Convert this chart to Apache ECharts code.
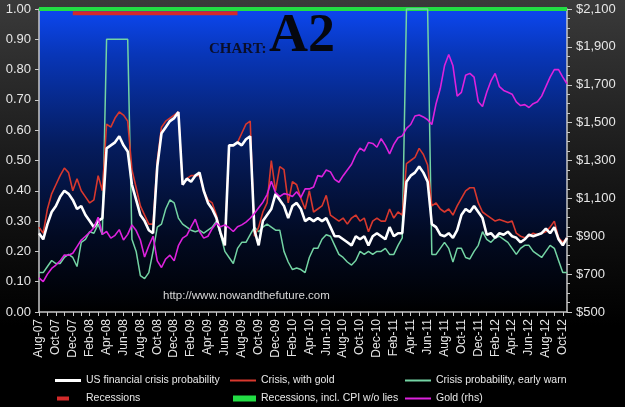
<!DOCTYPE html>
<html>
<head>
<meta charset="utf-8">
<script src="https://cdn.jsdelivr.net/npm/echarts@6/dist/echarts.min.js"></script>
<style>
  html, body { margin: 0; padding: 0; background: #000; }
  #chart { width: 625px; height: 407px; }
</style>
</head>
<body>
<div id="chart"></div>
<script>
// month tick labels, data is two readings per month
var monthLabels = [
  'Aug-07','Sep-07','Oct-07','Nov-07','Dec-07',
  'Jan-08','Feb-08','Mar-08','Apr-08','May-08','Jun-08','Jul-08','Aug-08','Sep-08','Oct-08','Nov-08','Dec-08',
  'Jan-09','Feb-09','Mar-09','Apr-09','May-09','Jun-09','Jul-09','Aug-09','Sep-09','Oct-09','Nov-09','Dec-09',
  'Jan-10','Feb-10','Mar-10','Apr-10','May-10','Jun-10','Jul-10','Aug-10','Sep-10','Oct-10','Nov-10','Dec-10',
  'Jan-11','Feb-11','Mar-11','Apr-11','May-11','Jun-11','Jul-11','Aug-11','Sep-11','Oct-11','Nov-11','Dec-11',
  'Jan-12','Feb-12','Mar-12','Apr-12','May-12','Jun-12','Jul-12','Aug-12','Sep-12','Oct-12'
];

var crisisProb = [
  0.26,0.24,0.29,0.33,0.35,0.38,0.40,0.39,0.37,0.34,
  0.35,0.32,0.30,0.28,0.30,0.31,0.54,0.55,0.56,0.58,
  0.55,0.53,0.42,0.37,0.32,0.30,0.27,0.26,0.48,0.59,
  0.61,0.63,0.64,0.66,0.42,0.44,0.43,0.45,0.46,0.40,
  0.36,0.34,0.31,0.26,0.22,0.55,0.55,0.56,0.55,0.57,
  0.58,0.27,0.22,0.30,0.32,0.34,0.39,0.37,0.35,0.31,
  0.35,0.36,0.34,0.30,0.31,0.30,0.31,0.30,0.31,0.28,
  0.25,0.25,0.24,0.23,0.22,0.25,0.24,0.25,0.22,0.25,
  0.26,0.25,0.24,0.28,0.25,0.26,0.26,0.43,0.45,0.46,
  0.48,0.46,0.43,0.29,0.28,0.255,0.25,0.26,0.245,0.27,
  0.32,0.34,0.33,0.35,0.33,0.31,0.255,0.26,0.245,0.26,
  0.255,0.265,0.25,0.245,0.23,0.24,0.255,0.25,0.255,0.26,
  0.275,0.26,0.28,0.24,0.22,0.245
];

var crisisWithGold = [
  0.28,0.26,0.34,0.39,0.42,0.45,0.475,0.46,0.40,0.44,
  0.40,0.38,0.36,0.37,0.45,0.40,0.62,0.61,0.64,0.66,
  0.65,0.63,0.47,0.41,0.35,0.32,0.29,0.29,0.50,0.61,
  0.63,0.64,0.65,0.66,0.42,0.44,0.45,0.45,0.45,0.40,
  0.37,0.36,0.32,0.26,0.22,0.55,0.55,0.56,0.59,0.62,
  0.63,0.25,0.28,0.33,0.36,0.50,0.40,0.48,0.47,0.36,
  0.43,0.42,0.375,0.34,0.40,0.33,0.34,0.35,0.385,0.32,
  0.31,0.30,0.31,0.29,0.31,0.32,0.30,0.31,0.265,0.30,
  0.31,0.30,0.30,0.34,0.31,0.33,0.32,0.49,0.50,0.51,
  0.54,0.52,0.485,0.35,0.36,0.34,0.33,0.34,0.32,0.35,
  0.375,0.40,0.41,0.41,0.36,0.33,0.32,0.31,0.30,0.305,
  0.30,0.295,0.30,0.26,0.25,0.245,0.25,0.26,0.255,0.26,
  0.265,0.28,0.30,0.245,0.23,0.245
];

var earlyWarn = [
  0.13,0.13,0.15,0.17,0.16,0.16,0.18,0.19,0.18,0.15,
  0.23,0.24,0.265,0.26,0.29,0.255,0.90,0.90,0.90,0.90,
  0.90,0.90,0.24,0.20,0.12,0.11,0.13,0.20,0.28,0.29,
  0.34,0.37,0.36,0.31,0.29,0.28,0.27,0.265,0.27,0.26,
  0.27,0.28,0.30,0.255,0.20,0.18,0.16,0.21,0.23,0.23,
  0.255,0.28,0.265,0.28,0.29,0.28,0.27,0.27,0.20,0.165,
  0.14,0.145,0.14,0.13,0.18,0.21,0.21,0.24,0.255,0.25,
  0.22,0.19,0.18,0.165,0.155,0.17,0.20,0.19,0.20,0.19,
  0.20,0.20,0.21,0.19,0.19,0.22,0.245,1.0,1.0,1.0,
  1.0,1.0,1.0,0.19,0.19,0.21,0.23,0.21,0.165,0.21,
  0.21,0.18,0.175,0.20,0.22,0.265,0.24,0.23,0.245,0.25,
  0.24,0.23,0.21,0.19,0.21,0.22,0.22,0.20,0.19,0.18,
  0.20,0.22,0.21,0.17,0.13,0.13
];

var gold = [
  680,660,700,730,748,770,801,800,810,845,
  880,900,920,945,1000,910,925,890,905,935,
  880,910,960,930,880,790,850,900,770,735,
  780,800,770,850,890,905,950,990,925,890,
  900,940,970,950,960,945,925,950,960,975,
  995,1020,1050,1080,1120,1190,1130,1110,1125,1120,
  1110,1135,1105,1150,1150,1160,1220,1215,1250,1240,
  1200,1185,1220,1250,1280,1330,1365,1350,1395,1390,
  1370,1415,1380,1335,1385,1420,1430,1470,1490,1535,
  1540,1530,1515,1490,1600,1680,1800,1860,1800,1640,
  1660,1750,1760,1740,1610,1585,1660,1720,1760,1690,
  1670,1660,1650,1610,1590,1595,1580,1600,1610,1640,
  1690,1740,1780,1780,1740,1705
];

// recession periods: [first, last] category, drawn as bars near the top
var recessionRange = ['Dec-07', 'Jul-09 b'];
var recessionLevel = 0.986;
var cpiRecessionRange = ['Aug-07', 'Oct-12 b'];
var cpiRecessionLevel = 1.0;

var categories = [];
monthLabels.forEach(function (m) { categories.push(m, m + ' b'); });

function spanSeries(range, level) {
  var a = categories.indexOf(range[0]), b = categories.indexOf(range[1]);
  return categories.map(function (c, i) { return (i >= a && i <= b) ? level : null; });
}

var font = '"Liberation Sans", Arial, sans-serif';
var legendText = { color: '#e8e8e8', fontSize: 10.5, fontFamily: font };

function legendAt(name, left, top, w, h, extra) {
  var l = {
    left: left, top: top, padding: 0, itemWidth: w, itemHeight: h,
    icon: 'rect', selectedMode: false, data: [name],
    textStyle: Object.assign({}, legendText)
  };
  if (extra) l.textStyle.padding = extra;
  return l;
}

var chart = echarts.init(document.getElementById('chart'));
chart.setOption({
  animation: false,
  backgroundColor: {
    type: 'linear', x: 0, y: 0, x2: 0, y2: 1,
    colorStops: [
      { offset: 0, color: '#3a3a3a' },
      { offset: 0.45, color: '#161616' },
      { offset: 0.8, color: '#000' },
      { offset: 1, color: '#000' }
    ]
  },
  textStyle: { fontFamily: font },
  grid: {
    left: 39, right: 58, top: 9, bottom: 95,
    show: true, borderWidth: 0,
    backgroundColor: {
      type: 'linear', x: 0, y: 0, x2: 0, y2: 1,
      colorStops: [
        { offset: 0, color: '#0c47f0' },
        { offset: 0.15, color: '#0836b8' },
        { offset: 0.45, color: '#051c5e' },
        { offset: 0.75, color: '#020a22' },
        { offset: 1, color: '#000' }
      ]
    }
  },
  legend: [
    legendAt('US financial crisis probability', 55, 375, 26, 3),
    legendAt('Recessions', 57, 393, 12, 4, [0, 0, 0, 12]),
    legendAt('Crisis, with gold', 230, 375, 26, 2),
    legendAt('Recessions, incl. CPI w/o lies', 233, 393, 23, 6),
    legendAt('Crisis probability, early warn', 405, 375, 26, 2),
    legendAt('Gold (rhs)', 405, 393, 26, 2)
  ],
  xAxis: {
    type: 'category',
    data: categories,
    boundaryGap: false,
    axisLine: { lineStyle: { color: '#c8c8c8', width: 1.5 } },
    axisTick: { interval: 1, length: 4, lineStyle: { color: '#c8c8c8' } },
    axisLabel: {
      interval: 3, rotate: 90, margin: 7,
      color: '#e6e6e6', fontSize: 12, fontFamily: font
    },
    splitLine: { show: false }
  },
  yAxis: [{
    type: 'value', min: 0, max: 1, interval: 0.1,
    axisLine: { show: true, lineStyle: { color: '#c8c8c8', width: 1.5 } },
    axisTick: { show: true, length: 4, lineStyle: { color: '#c8c8c8' } },
    axisLabel: {
      color: '#e6e6e6', fontSize: 13, margin: 8,
      formatter: function (v) { return v.toFixed(2); }
    },
    splitLine: { show: false }
  }, {
    type: 'value', min: 500, max: 2100, interval: 200, position: 'right',
    axisLine: { show: true, lineStyle: { color: '#c8c8c8', width: 1.5 } },
    axisTick: { show: true, length: 5, lineStyle: { color: '#c8c8c8' } },
    minorTick: { show: true, splitNumber: 4, length: 3, lineStyle: { color: '#c8c8c8' } },
    axisLabel: {
      color: '#e6e6e6', fontSize: 13, margin: 9,
      formatter: function (v) { return '$' + v.toLocaleString('en-US'); }
    },
    splitLine: { show: false }
  }],
  series: [{
    name: 'Recessions, incl. CPI w/o lies', type: 'line',
    data: spanSeries(cpiRecessionRange, cpiRecessionLevel),
    color: '#22dd44', showSymbol: false, clip: false,
    lineStyle: { width: 4, color: '#22dd44' }
  }, {
    name: 'Recessions', type: 'line',
    data: spanSeries(recessionRange, recessionLevel),
    color: '#d42a2a', showSymbol: false, clip: false,
    lineStyle: { width: 4, color: '#d42a2a' }
  }, {
    name: 'Crisis probability, early warn', type: 'line', data: earlyWarn,
    color: '#74d4a4', showSymbol: false, clip: false,
    lineStyle: { width: 1.5, color: '#74d4a4' }
  }, {
    name: 'Crisis, with gold', type: 'line', data: crisisWithGold,
    color: '#d8382e', showSymbol: false,
    lineStyle: { width: 1.6, color: '#d8382e' }
  }, {
    name: 'US financial crisis probability', type: 'line', data: crisisProb,
    color: '#ffffff', showSymbol: false,
    lineStyle: { width: 2.6, color: '#ffffff' }
  }, {
    name: 'Gold (rhs)', type: 'line', data: gold, yAxisIndex: 1,
    color: '#dd22dd', showSymbol: false,
    lineStyle: { width: 1.6, color: '#dd22dd' }
  }],
  graphic: [{
    type: 'text', left: 209, top: 42,
    style: { text: 'CHART:', fill: '#0a0f2a', font: 'bold 15px "Liberation Serif", "DejaVu Serif", serif' }
  }, {
    type: 'text', left: 269, top: 10,
    style: { text: 'A2', fill: '#05070f', font: 'bold 54px "Liberation Serif", "DejaVu Serif", serif' }
  }, {
    type: 'text', left: 163, top: 290,
    style: { text: 'http://www.nowandthefuture.com', fill: '#d8d8d8', font: '11.5px "Liberation Sans", Arial, sans-serif' }
  }]
});
</script>
</body>
</html>
